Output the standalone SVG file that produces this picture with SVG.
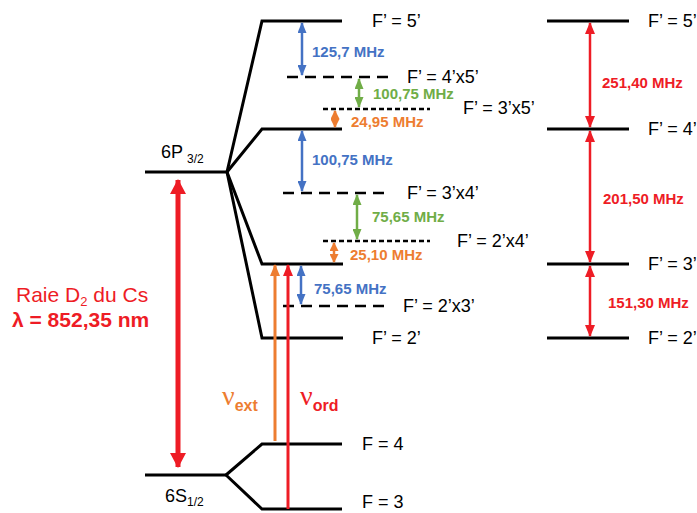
<svg xmlns="http://www.w3.org/2000/svg" width="697" height="513" viewBox="0 0 697 513">
<defs>
<style>
.lv{fill:none;stroke:#000;stroke-width:3;stroke-linejoin:miter}
.ds{fill:none;stroke:#000;stroke-width:2.5;stroke-dasharray:11 7}
.dss{fill:none;stroke:#000;stroke-width:2.5;stroke-dasharray:5 3}
.t{font-family:"Liberation Sans",Arial,sans-serif;font-size:18px;fill:#000}
.m{font-family:"Liberation Sans",Arial,sans-serif;font-size:15px;font-weight:bold}
.b{fill:#4472C4}.g{fill:#70AD47}.o{fill:#ED7D31}.r{fill:#EE1C25}
.ab{stroke:#4472C4;stroke-width:2.5;fill:none;marker-start:url(#hb);marker-end:url(#hb)}
.ag{stroke:#70AD47;stroke-width:2.5;fill:none;marker-start:url(#hg);marker-end:url(#hg)}
.ao{stroke:#ED7D31;stroke-width:2.5;fill:none;marker-start:url(#ho);marker-end:url(#ho)}
.ar{stroke:#EE1C25;stroke-width:2.5;fill:none;marker-start:url(#hr);marker-end:url(#hr)}
</style>
<marker id="hb" markerUnits="userSpaceOnUse" markerWidth="11" markerHeight="9" refX="10" refY="4.5" orient="auto-start-reverse"><path d="M0,0 L11,4.5 L0,9 z" fill="#4472C4"/></marker>
<marker id="hg" markerUnits="userSpaceOnUse" markerWidth="11" markerHeight="9" refX="10" refY="4.5" orient="auto-start-reverse"><path d="M0,0 L11,4.5 L0,9 z" fill="#70AD47"/></marker>
<marker id="ho" markerUnits="userSpaceOnUse" markerWidth="9" markerHeight="9" refX="8" refY="4.5" orient="auto-start-reverse"><path d="M0,0 L9,4.5 L0,9 z" fill="#ED7D31"/></marker>
<marker id="hr" markerUnits="userSpaceOnUse" markerWidth="12" markerHeight="10" refX="11" refY="5" orient="auto-start-reverse"><path d="M0,0 L12,5 L0,10 z" fill="#EE1C25"/></marker>
<marker id="hR" markerUnits="userSpaceOnUse" markerWidth="15" markerHeight="16" refX="14" refY="8" orient="auto-start-reverse"><path d="M0,0 L15,8 L0,16 z" fill="#EE1C25"/></marker>
<marker id="hO1" markerUnits="userSpaceOnUse" markerWidth="12" markerHeight="10" refX="11" refY="5" orient="auto"><path d="M0,0 L12,5 L0,10 z" fill="#ED7D31"/></marker>
<marker id="hR1" markerUnits="userSpaceOnUse" markerWidth="12" markerHeight="10" refX="11" refY="5" orient="auto"><path d="M0,0 L12,5 L0,10 z" fill="#EE1C25"/></marker>
</defs>
<rect width="697" height="513" fill="#fff"/>

<g id="level-6P">
<path class="lv" d="M145,172 H227"/>
<text class="t" x="161" y="158" font-size="17">6P<tspan font-size="12" dx="4" dy="5">3/2</tspan></text>
</g>
<g id="level-6S">
<path class="lv" d="M145,475 H226"/>
<text class="t" x="165" y="502" font-size="17">6S<tspan font-size="12" dy="4">1/2</tspan></text>
</g>
<g id="level-F5">
<path class="lv" d="M227,172 L262,21 H342"/>
<text class="t" x="372" y="27">F’ = 5’</text>
</g>
<g id="level-F4">
<path class="lv" d="M227,172 L262,129 H342"/>
</g>
<g id="level-F3">
<path class="lv" d="M227,172 L262,264 H343"/>
</g>
<g id="level-F2">
<path class="lv" d="M227,172 L262,338 H343"/>
<text class="t" x="372" y="344">F’ = 2’</text>
</g>
<g id="level-Fg4">
<path class="lv" d="M226,475 L262,444 H342"/>
<text class="t" x="362" y="450">F = 4</text>
</g>
<g id="level-Fg3">
<path class="lv" d="M226,475 L262,509 H342"/>
<text class="t" x="362" y="508">F = 3</text>
</g>
<g id="cross-4x5">
<path class="ds" d="M287,77 H392"/>
<text class="t" x="407" y="83">F’ = 4’x5’</text>
</g>
<g id="cross-3x5">
<path class="dss" d="M323,109 H430"/>
<text class="t" x="463" y="114">F’ = 3’x5’</text>
</g>
<g id="cross-3x4">
<path class="ds" d="M283,193 H390"/>
<text class="t" x="407" y="199">F’ = 3’x4’</text>
</g>
<g id="cross-2x4">
<path class="dss" d="M323,241 H430"/>
<text class="t" x="457" y="247">F’ = 2’x4’</text>
</g>
<g id="cross-2x3">
<path class="ds" d="M283,306 H390"/>
<text class="t" x="403" y="312">F’ = 2’x3’</text>
</g>

<g id="right-F5">
<path class="lv" d="M547,21 H629"/>
<text class="t" x="648" y="27">F’ = 5’</text>
</g>
<g id="right-F4">
<path class="lv" d="M547,129 H629"/>
<text class="t" x="648" y="135">F’ = 4’</text>
</g>
<g id="right-F3">
<path class="lv" d="M547,264 H629"/>
<text class="t" x="648" y="270">F’ = 3’</text>
</g>
<g id="right-F2">
<path class="lv" d="M547,338 H629"/>
<text class="t" x="648" y="344">F’ = 2’</text>
</g>

<g id="legend">
<text x="16" y="302" font-family="Liberation Sans,Arial,sans-serif" font-size="21" class="r">Raie D<tspan font-size="13" dy="4">2</tspan><tspan dy="-4"> du Cs</tspan></text>
<text x="12" y="327" font-family="Liberation Sans,Arial,sans-serif" font-size="21" font-weight="bold" class="r">λ = 852,35 nm</text>
</g>

<g id="connectors">
<path d="M178,180 V467" stroke="#EE1C25" stroke-width="5" fill="none" marker-start="url(#hR)" marker-end="url(#hR)"/>
<path d="M275,441 V265" stroke="#ED7D31" stroke-width="3" fill="none" marker-end="url(#hO1)"/>
<path d="M288,509 V265" stroke="#EE1C25" stroke-width="3" fill="none" marker-end="url(#hR1)"/>
<path class="ab" d="M302,23 V75"/>
<path class="ag" d="M359,79 V107"/>
<path class="ao" d="M335,111 V127"/>
<path class="ab" d="M302,131 V191"/>
<path class="ag" d="M357,195 V239"/>
<path class="ao" d="M334,243 V262"/>
<path class="ab" d="M301,266 V304"/>
<path class="ar" d="M590,23 V127"/>
<path class="ar" d="M590,131 V262"/>
<path class="ar" d="M590,266 V336"/>
</g>

<g id="labels">
<text class="m b" x="312" y="57">125,7 MHz</text>
<text class="m g" x="373" y="99">100,75 MHz</text>
<text class="m o" x="351" y="127">24,95 MHz</text>
<text class="m b" x="312" y="165">100,75 MHz</text>
<text class="m g" x="372" y="222">75,65 MHz</text>
<text class="m o" x="350" y="260">25,10 MHz</text>
<text class="m b" x="314" y="294">75,65 MHz</text>
<text class="m r" x="602" y="88">251,40 MHz</text>
<text class="m r" x="603" y="204">201,50 MHz</text>
<text class="m r" x="608" y="308">151,30 MHz</text>
<text x="222" y="405" font-family="Liberation Serif,serif" font-size="28" class="o">ν<tspan font-family="Liberation Sans,Arial,sans-serif" font-size="16" font-weight="bold" dy="6">ext</tspan></text>
<text x="300" y="405" font-family="Liberation Serif,serif" font-size="28" class="r">ν<tspan font-family="Liberation Sans,Arial,sans-serif" font-size="16" font-weight="bold" dy="6">ord</tspan></text>
</g>
</svg>
